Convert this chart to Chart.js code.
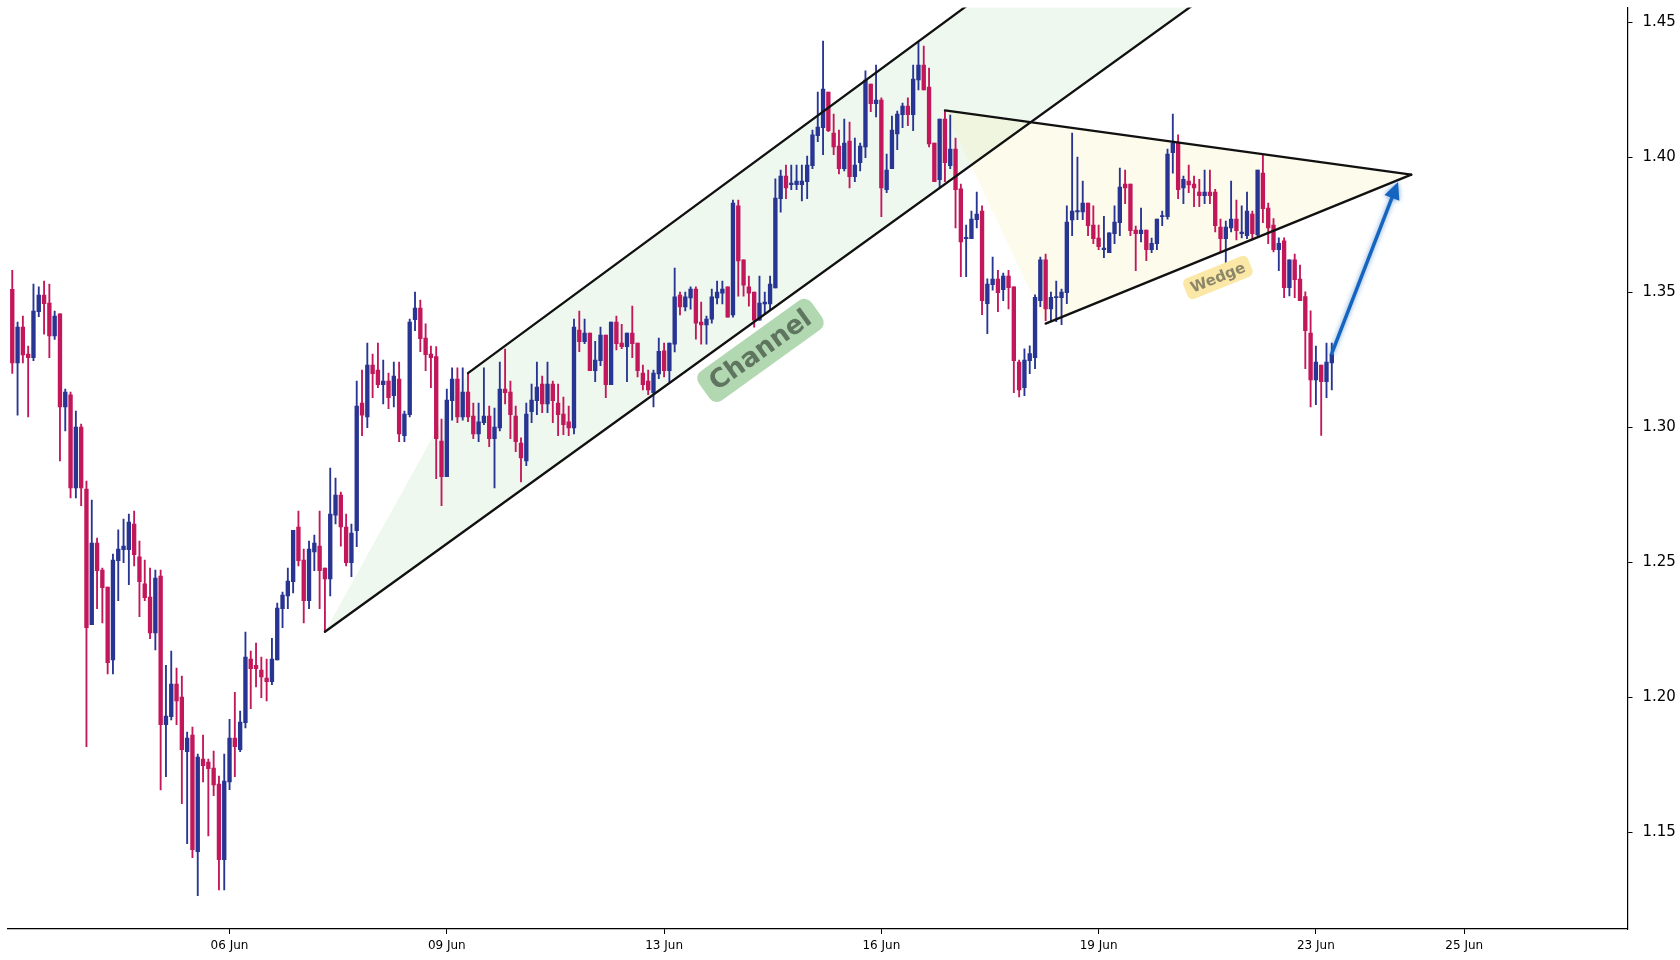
<!DOCTYPE html>
<html>
<head>
<meta charset="utf-8">
<script src="https://cdn.jsdelivr.net/npm/chart.js@4.4.1/dist/chart.umd.min.js"></script>
<style>
html, body { margin: 0; padding: 0; background: #fff; }
#contenedor { width: 1680px; height: 960px; }
</style>
</head>
<body>
<div id="contenedor"><canvas id="grafica" width="1680" height="960"></canvas></div>
<script>
// velas, una por posicion (0..249)
const opens = [
1.3510,1.3238,1.3370,1.3270,1.3257,1.3427,1.3489,1.3459,1.3338,1.3419,
1.3075,1.3119,1.2775,1.3000,1.2770,1.2268,1.2570,1.2470,1.2407,1.2138,
1.2505,1.2546,1.2546,1.2641,1.2519,1.2419,1.2370,1.2238,1.2448,1.1898,
1.1927,1.2048,1.2000,1.1798,1.1859,1.1427,1.1770,1.1759,1.1737,1.1678,
1.1398,1.1686,1.1848,1.1805,1.1905,1.2141,1.2118,1.2100,1.2070,1.2057,
1.2138,1.2327,1.2375,1.2427,1.2630,1.2507,1.2357,1.2538,1.2559,1.2478,
1.2438,1.2674,1.2748,1.2630,1.2498,1.2616,1.3089,1.3038,1.3230,1.3211,
1.3157,1.3170,1.3116,1.3178,1.2968,1.3046,1.3398,1.3441,1.3330,1.3270,
1.3261,1.2948,1.2816,1.3098,1.3178,1.3038,1.3130,1.3041,1.2975,1.3016,
1.3041,1.2957,1.2997,1.3141,1.3130,1.3041,1.2941,1.2875,1.3057,1.3098,
1.3159,1.3086,1.3159,1.3089,1.3048,1.3019,1.2997,1.3359,1.3316,1.3348,
1.3209,1.3246,1.3341,1.3157,1.3389,1.3311,1.3298,1.3348,1.3311,1.3200,
1.3170,1.3127,1.3197,1.3282,1.3209,1.3307,1.3489,1.3445,1.3478,1.3511,
1.3389,1.3378,1.3400,1.3478,1.3496,1.3519,1.3415,1.3819,1.3619,1.3519,
1.3500,1.3396,1.3456,1.3456,1.3515,1.3846,1.3930,1.3898,1.3898,1.3898,
1.3909,1.3968,1.4079,1.4109,1.4241,1.4089,1.4041,1.3957,1.4059,1.3927,
1.3979,1.4038,1.4270,1.4198,1.4211,1.3879,1.3957,1.4086,1.4157,1.4189,
1.4157,1.4286,1.4341,1.4259,1.4052,1.3916,1.4141,1.3968,1.4030,1.3882,
1.3698,1.3698,1.3768,1.3800,1.3457,1.3527,1.3548,1.3509,1.3559,1.3519,
1.3241,1.3146,1.3246,1.3257,1.3468,1.3619,1.3438,1.3479,1.3479,1.3498,
1.3767,1.3797,1.3797,1.3830,1.3748,1.3700,1.3657,1.3646,1.3716,1.3757,
1.3900,1.3900,1.3730,1.3716,1.3730,1.3657,1.3679,1.3779,1.3779,1.4016,
1.4052,1.3886,1.3911,1.3900,1.3870,1.3857,1.3870,1.3870,1.3741,1.3698,
1.3738,1.3770,1.3716,1.3709,1.3789,1.3712,1.3941,1.3811,1.3748,1.3657,
1.3690,1.3516,1.3619,1.3548,1.3483,1.3348,1.3175,1.3230,1.3168,1.3238]

const highs = [
1.3581,1.3389,1.3411,1.3300,1.3530,1.3519,1.3541,1.3530,1.3430,1.3419,
1.3141,1.3130,1.3059,1.3011,1.2800,1.2730,1.2589,1.2478,1.2407,1.2530,
1.2619,1.2659,1.2678,1.2689,1.2578,1.2507,1.2478,1.2470,1.2470,1.2118,
1.2170,1.2107,1.2078,1.1870,1.1889,1.1789,1.1859,1.1770,1.1800,1.1707,
1.1789,1.1918,1.2018,1.1948,1.2241,1.2170,1.2200,1.2148,1.2141,1.2218,
1.2348,1.2389,1.2478,1.2618,1.2689,1.2548,1.2578,1.2600,1.2689,1.2478,
1.2848,1.2811,1.2759,1.2678,1.2641,1.3170,1.3211,1.3311,1.3270,1.3311,
1.3248,1.3200,1.3241,1.3241,1.3059,1.3400,1.3500,1.3470,1.3382,1.3300,
1.3298,1.3030,1.3141,1.3219,1.3219,1.3219,1.3200,1.3089,1.3089,1.3219,
1.3078,1.3070,1.3241,1.3289,1.3170,1.3078,1.2960,1.3089,1.3159,1.3241,
1.3189,1.3241,1.3170,1.3159,1.3111,1.3078,1.3400,1.3430,1.3400,1.3348,
1.3318,1.3370,1.3341,1.3389,1.3411,1.3381,1.3348,1.3448,1.3311,1.3230,
1.3211,1.3211,1.3330,1.3311,1.3311,1.3589,1.3500,1.3500,1.3519,1.3519,
1.3463,1.3411,1.3511,1.3541,1.3541,1.3519,1.3841,1.3841,1.3619,1.3559,
1.3500,1.3559,1.3500,1.3559,1.3919,1.3952,1.3970,1.3970,1.3970,1.3970,
1.4004,1.4100,1.4241,1.4430,1.4241,1.4159,1.4100,1.4141,1.4130,1.4070,
1.4052,1.4319,1.4270,1.4341,1.4219,1.4011,1.4152,1.4170,1.4200,1.4219,
1.4341,1.4426,1.4411,1.4330,1.4052,1.4141,1.4170,1.4156,1.4070,1.3900,
1.3748,1.3800,1.3870,1.3819,1.3549,1.3630,1.3581,1.3570,1.3581,1.3519,
1.3248,1.3290,1.3301,1.3490,1.3630,1.3641,1.3500,1.3541,1.3511,1.3819,
1.4089,1.4000,1.3911,1.3830,1.3819,1.3748,1.3781,1.3719,1.3819,1.3959,
1.3952,1.3900,1.3744,1.3811,1.3730,1.3700,1.3770,1.3800,1.4030,1.4159,
1.4082,1.3930,1.3970,1.3930,1.3918,1.3952,1.3952,1.3881,1.3770,1.3763,
1.3911,1.3841,1.3819,1.3870,1.3800,1.3952,1.4007,1.3830,1.3772,1.3701,
1.3701,1.3619,1.3641,1.3600,1.3501,1.3431,1.3300,1.3230,1.3311,1.3311]

const lows = [
1.3199,1.3044,1.3238,1.3038,1.3246,1.3409,1.3344,1.3257,1.3325,1.2875,
1.2986,1.2738,1.2738,1.2709,1.1816,1.2268,1.2327,1.2275,1.2086,1.2086,
1.2357,1.2498,1.2416,1.2486,1.2298,1.2357,1.2216,1.2175,1.1656,1.1705,
1.1915,1.1898,1.1605,1.1457,1.1405,1.1264,1.1686,1.1486,1.1635,1.1286,
1.1286,1.1657,1.1705,1.1798,1.1886,1.1957,1.2038,1.1998,1.1986,1.2046,
1.2138,1.2257,1.2327,1.2386,1.2486,1.2275,1.2327,1.2468,1.2327,1.2242,
1.2375,1.2641,1.2559,1.2486,1.2446,1.2557,1.2968,1.2998,1.3109,1.3146,
1.3086,1.3068,1.3075,1.2946,1.2946,1.3038,1.3357,1.3279,1.3209,1.3146,
1.2809,1.2709,1.2816,1.3026,1.3016,1.3026,1.3020,1.2957,1.2946,1.3009,
1.2927,1.2775,1.2986,1.3086,1.2957,1.2909,1.2797,1.2857,1.3016,1.3046,
1.3053,1.3053,1.3016,1.2968,1.2972,1.2968,1.2975,1.3279,1.3309,1.3209,
1.3168,1.3227,1.3109,1.3157,1.3286,1.3290,1.3168,1.3257,1.3186,1.3138,
1.3120,1.3075,1.3179,1.3186,1.3168,1.3278,1.3415,1.3430,1.3437,1.3326,
1.3307,1.3307,1.3385,1.3456,1.3456,1.3407,1.3407,1.3485,1.3485,1.3448,
1.3370,1.3396,1.3419,1.3433,1.3515,1.3796,1.3846,1.3879,1.3879,1.3838,
1.3846,1.3957,1.4057,1.4009,1.4094,1.4009,1.3938,1.3949,1.3886,1.3909,
1.3949,1.3998,1.4168,1.4149,1.3779,1.3868,1.3957,1.4027,1.4109,1.4116,
1.4098,1.4249,1.4249,1.4038,1.3909,1.3886,1.3909,1.3957,1.3738,1.3557,
1.3557,1.3698,1.3738,1.3416,1.3346,1.3507,1.3427,1.3468,1.3438,1.3127,
1.3112,1.3116,1.3198,1.3216,1.3446,1.3394,1.3394,1.3390,1.3379,1.3457,
1.3709,1.3768,1.3768,1.3709,1.3679,1.3657,1.3627,1.3646,1.3679,1.3709,
1.3827,1.3709,1.3579,1.3686,1.3616,1.3646,1.3657,1.3746,1.3770,1.3940,
1.3846,1.3827,1.3868,1.3816,1.3816,1.3827,1.3827,1.3723,1.3649,1.3609,
1.3723,1.3693,1.3701,1.3698,1.3693,1.3709,1.3757,1.3679,1.3649,1.3579,
1.3479,1.3486,1.3479,1.3468,1.3216,1.3075,1.3083,1.2969,1.3109,1.3138]

const closes = [
1.3238,1.3370,1.3267,1.3257,1.3430,1.3489,1.3457,1.3338,1.3411,1.3075,
1.3130,1.2775,1.3000,1.2775,1.2257,1.2570,1.2468,1.2405,1.2127,1.2507,
1.2548,1.2559,1.2648,1.2527,1.2427,1.2368,1.2238,1.2441,1.1898,1.1930,
1.2048,1.1986,1.1805,1.1848,1.1435,1.1778,1.1746,1.1735,1.1675,1.1398,
1.1689,1.1848,1.1816,1.1907,1.2148,1.2105,1.2105,1.2075,1.2057,1.2141,
1.2330,1.2378,1.2430,1.2618,1.2505,1.2357,1.2548,1.2570,1.2468,1.2438,
1.2678,1.2748,1.2630,1.2498,1.2607,1.3078,1.3044,1.3230,1.3198,1.3157,
1.3170,1.3109,1.3189,1.2975,1.3048,1.3389,1.3441,1.3327,1.3268,1.3257,
1.2957,1.2816,1.3100,1.3178,1.3038,1.3130,1.3038,1.2975,1.3019,1.3041,
1.2957,1.3000,1.3141,1.3127,1.3046,1.2946,1.2886,1.3048,1.3100,1.3148,
1.3086,1.3159,1.3098,1.3046,1.3009,1.2997,1.3370,1.3316,1.3348,1.3209,
1.3248,1.3341,1.3157,1.3389,1.3309,1.3298,1.3348,1.3309,1.3209,1.3157,
1.3138,1.3200,1.3281,1.3209,1.3311,1.3482,1.3445,1.3482,1.3511,1.3385,
1.3378,1.3400,1.3482,1.3500,1.3511,1.3407,1.3830,1.3615,1.3526,1.3496,
1.3396,1.3459,1.3463,1.3530,1.3848,1.3930,1.3886,1.3904,1.3911,1.3911,
1.3970,1.4082,1.4111,1.4252,1.4098,1.4038,1.3957,1.4052,1.3927,1.3970,
1.4041,1.4285,1.4198,1.4211,1.3886,1.3952,1.4100,1.4159,1.4189,1.4157,
1.4289,1.4341,1.4249,1.4049,1.3909,1.4141,1.3979,1.4030,1.3879,1.3686,
1.3700,1.3770,1.3789,1.3468,1.3530,1.3548,1.3498,1.3559,1.3516,1.3246,
1.3138,1.3248,1.3272,1.3481,1.3619,1.3438,1.3481,1.3483,1.3500,1.3759,
1.3800,1.3800,1.3830,1.3746,1.3698,1.3668,1.3663,1.3719,1.3759,1.3889,
1.3886,1.3727,1.3716,1.3730,1.3657,1.3681,1.3770,1.3783,1.4011,1.4052,
1.3879,1.3918,1.3897,1.3886,1.3857,1.3870,1.3857,1.3746,1.3698,1.3741,
1.3770,1.3727,1.3722,1.3800,1.3716,1.3952,1.3809,1.3738,1.3657,1.3681,
1.3516,1.3619,1.3546,1.3468,1.3357,1.3175,1.3241,1.3168,1.3241,1.3270]

const tickPos = [41, 82, 123, 164, 205, 246, 274]
const tickLabels = ["06 Jun", "09 Jun", "13 Jun", "16 Jun", "19 Jun", "23 Jun", "25 Jun"]
const priceTicks = [1.15, 1.20, 1.25, 1.30, 1.35, 1.40, 1.45]

// dibujos: [posicion, precio]
const channelLower = [[59, 1.2242], [230, 1.4665]]
const channelUpper = [[86, 1.3200], [190, 1.4703]]
const wedgeUpper = [[176, 1.4173], [264, 1.3935]]
const wedgeLower = [[195, 1.3383], [264, 1.3935]]
const arrowPath = [[249, 1.3273], [261.5, 1.3908]]
const channelLabel = [141.2, 1.3284]
const wedgeLabel = [227.5, 1.3554]

const AZUL = "#283593", ROSA = "#c2185b"

const Cuerpos = opens.map((o, i) => ({ x: i, y: [o, closes[i]] }))
const Mechas = lows.map((l, i) => ({ x: i, y: [l, highs[i]] }))
const colorVela = i => closes[i] >= opens[i] ? AZUL : ROSA

function aPixel(chart, p) {
    return [chart.scales.x.getPixelForValue(p[0]), chart.scales.y.getPixelForValue(p[1])]
}

function recortar(c, chart) {
    const a = chart.chartArea
    c.beginPath()
    c.rect(a.left, a.top, a.right - a.left, a.bottom - a.top)
    c.clip()
}

function poligono(c, chart, pts, color) {
    const p = pts.map(q => aPixel(chart, q))
    c.beginPath()
    c.moveTo(p[0][0], p[0][1])
    p.slice(1).forEach(q => c.lineTo(q[0], q[1]))
    c.closePath()
    c.fillStyle = color
    c.fill()
}

function linea(c, chart, pts, color, ancho) {
    const p = pts.map(q => aPixel(chart, q))
    c.beginPath()
    c.moveTo(p[0][0], p[0][1])
    c.lineTo(p[1][0], p[1][1])
    c.strokeStyle = color
    c.lineWidth = ancho
    c.lineCap = "round"
    c.stroke()
}

function etiqueta(c, chart, pos, angulo, texto, fuente, colTexto, colCaja, padX, alto) {
    const [x, y] = aPixel(chart, pos)
    c.save()
    c.translate(x, y)
    c.rotate(angulo * Math.PI / 180)
    c.font = fuente
    const w = c.measureText(texto).width
    c.beginPath()
    c.roundRect(-w / 2 - padX, -alto / 2, w + 2 * padX, alto, alto * 0.25)
    c.fillStyle = colCaja
    c.fill()
    c.fillStyle = colTexto
    c.textAlign = "center"
    c.textBaseline = "middle"
    c.fillText(texto, 0, 1)
    c.restore()
}

const Dibujos = {
    id: "dibujos",
    beforeDatasetsDraw(chart) {
        const c = chart.ctx
        c.save()
        recortar(c, chart)
        poligono(c, chart, [channelLower[0], channelLower[1], channelUpper[1], channelUpper[0]], "rgba(76,175,80,0.09)")
        poligono(c, chart, [wedgeUpper[0], wedgeUpper[1], wedgeLower[0]], "rgba(240,215,80,0.11)")
        c.restore()
    },
    afterDatasetsDraw(chart) {
        const c = chart.ctx
        c.save()
        recortar(c, chart)
        linea(c, chart, channelLower, "#111", 2.3)
        linea(c, chart, channelUpper, "#111", 2.3)
        linea(c, chart, wedgeUpper, "#111", 2.3)
        linea(c, chart, wedgeLower, "#111", 2.3)

        // flecha azul
        const [x0, y0] = aPixel(chart, arrowPath[0])
        const [x1, y1] = aPixel(chart, arrowPath[1])
        const ang = Math.atan2(y1 - y0, x1 - x0)
        const largo = 17, medio = 8
        const bx = x1 - largo * Math.cos(ang), by = y1 - largo * Math.sin(ang)
        c.shadowColor = "rgba(21,101,192,0.6)"
        c.shadowBlur = 5
        c.beginPath()
        c.moveTo(x0, y0)
        c.lineTo(bx, by)
        c.strokeStyle = "#1565c0"
        c.lineWidth = 3.5
        c.lineCap = "round"
        c.stroke()
        c.beginPath()
        c.moveTo(x1, y1)
        c.lineTo(bx + medio * Math.sin(ang), by - medio * Math.cos(ang))
        c.lineTo(bx - medio * Math.sin(ang), by + medio * Math.cos(ang))
        c.closePath()
        c.fillStyle = "#1565c0"
        c.fill()
        c.shadowBlur = 0
        c.shadowColor = "transparent"

        etiqueta(c, chart, channelLabel, -35.7, "Channel", 'bold 26px "DejaVu Sans"', "#5f755f", "#b2d8b1", 10, 36)
        etiqueta(c, chart, wedgeLabel, -22, "Wedge", 'bold 15px "DejaVu Sans"', "#8c8768", "#fbe8a6", 6, 22)
        c.restore()
    }
}

const ctx = document.getElementById("grafica").getContext("2d")

new Chart(ctx, {
    type: "bar",
    data: {
        datasets: [
            {
                label: "mechas",
                data: Mechas,
                backgroundColor: c => colorVela(c.dataIndex),
                barThickness: 1.2,
                grouped: false,
                borderWidth: 0
            },
            {
                label: "cuerpos",
                data: Cuerpos,
                backgroundColor: c => colorVela(c.dataIndex),
                barThickness: 3.7,
                grouped: false,
                borderWidth: 0,
                minBarLength: 1.2
            }
        ]
    },
    options: {
        responsive: false,
        animation: false,
        devicePixelRatio: 1,
        layout: { padding: { left: 7.5, top: 7.5, right: 0, bottom: 0 } },
        plugins: {
            legend: { display: false },
            tooltip: { enabled: false }
        },
        scales: {
            x: {
                type: "linear",
                min: -0.9,
                max: 304.8,
                offset: false,
                afterBuildTicks: s => { s.ticks = tickPos.map(v => ({ value: v })) },
                afterFit: s => { s.height = 31; s.paddingLeft = 0; s.paddingRight = 0 },
                ticks: {
                    autoSkip: false,
                    maxRotation: 0,
                    padding: 5,
                    color: "#000",
                    font: { family: "DejaVu Sans", size: 12 },
                    callback: v => tickLabels[tickPos.indexOf(v)]
                },
                grid: { offset: false, drawOnChartArea: false, drawTicks: true, tickLength: 5, color: "#000" },
                border: { display: true, color: "#000", width: 1.2 }
            },
            y: {
                position: "right",
                min: 1.1141,
                max: 1.4554,
                afterBuildTicks: s => { s.ticks = priceTicks.map(v => ({ value: v })) },
                afterFit: s => { s.width = 52.5; s.paddingTop = 0; s.paddingBottom = 0 },
                ticks: {
                    padding: 10,
                    color: "#000",
                    font: { family: "DejaVu Sans", size: 15 },
                    callback: v => v.toFixed(2)
                },
                grid: { drawOnChartArea: false, drawTicks: true, tickLength: 5, color: "#000" },
                border: { display: true, color: "#000", width: 1.2 }
            }
        }
    },
    plugins: [Dibujos]
})
</script>
</body>
</html>
